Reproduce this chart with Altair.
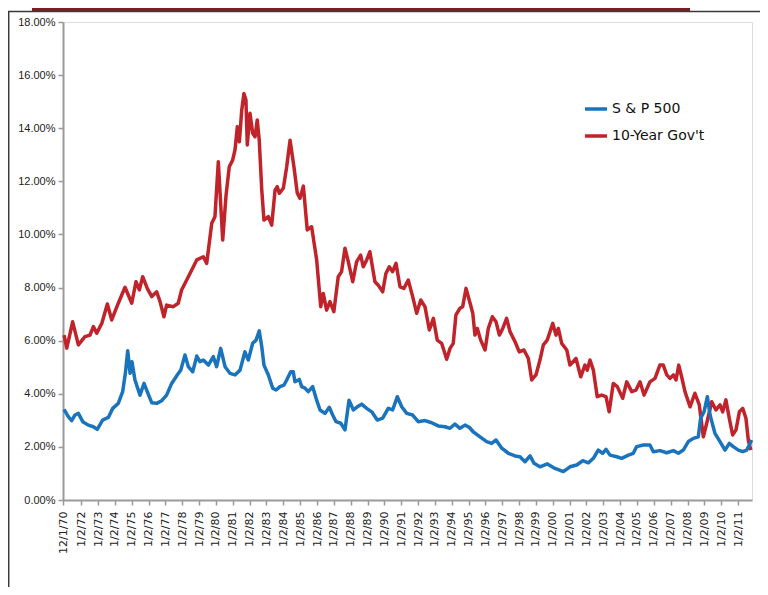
import altair as alt
import pandas as pd

# ---- data (decimal year, yield in %) ----
sp_years = [1970.98, 1971.23, 1971.43, 1971.63, 1971.83, 1972.09, 1972.42, 1972.72, 1972.95, 1973.27,
            1973.61, 1973.87, 1974.20, 1974.46, 1974.62, 1974.76, 1974.90, 1975.01, 1975.19, 1975.49,
            1975.73, 1975.92, 1976.19, 1976.48, 1976.78, 1977.07, 1977.37, 1977.70, 1977.91, 1978.16,
            1978.36, 1978.62, 1978.86, 1979.05, 1979.25, 1979.55, 1979.84, 1980.04, 1980.28, 1980.54,
            1980.83, 1981.13, 1981.43, 1981.72, 1981.92, 1982.18, 1982.38, 1982.57, 1982.72, 1982.85,
            1983.11, 1983.37, 1983.57, 1983.80, 1984.04, 1984.20, 1984.44, 1984.59, 1984.69, 1984.95,
            1985.09, 1985.29, 1985.48, 1985.74, 1985.98, 1986.18, 1986.47, 1986.73, 1986.93, 1987.13,
            1987.41, 1987.66, 1987.90, 1988.16, 1988.39, 1988.65, 1988.95, 1989.25, 1989.58, 1989.90,
            1990.23, 1990.49, 1990.77, 1991.03, 1991.33, 1991.68, 1992.01, 1992.41, 1992.81, 1993.20,
            1993.60, 1993.90, 1994.19, 1994.49, 1994.79, 1995.04, 1995.27, 1995.68, 1996.07, 1996.37,
            1996.63, 1996.97, 1997.36, 1997.76, 1998.05, 1998.35, 1998.65, 1998.89, 1999.24, 1999.68,
            2000.13, 2000.63, 2001.02, 2001.42, 2001.78, 2002.11, 2002.41, 2002.70, 2002.96, 2003.16,
            2003.40, 2003.80, 2004.09, 2004.49, 2004.78, 2004.98, 2005.38, 2005.77, 2005.97, 2006.36,
            2006.77, 2007.16, 2007.46, 2007.75, 2008.05, 2008.35, 2008.64, 2008.78, 2008.98, 2009.18,
            2009.34, 2009.63, 2009.93, 2010.23, 2010.48, 2010.72, 2011.02, 2011.28, 2011.52, 2011.67,
            2011.81]
sp_values = [3.41, 3.14, 2.99, 3.20, 3.26, 2.95, 2.82, 2.76, 2.66, 3.01,
             3.11, 3.45, 3.64, 4.08, 4.77, 5.62, 4.77, 5.21, 4.52, 3.95,
             4.39, 4.08, 3.66, 3.64, 3.74, 3.95, 4.39, 4.71, 4.89, 5.46,
             5.02, 4.83, 5.42, 5.21, 5.27, 5.08, 5.40, 5.02, 5.71, 5.02,
             4.77, 4.71, 4.89, 5.58, 5.27, 5.90, 6.02, 6.37, 5.77, 5.08,
             4.71, 4.21, 4.14, 4.27, 4.33, 4.52, 4.83, 4.83, 4.45, 4.54,
             4.27, 4.21, 4.08, 4.27, 3.76, 3.39, 3.26, 3.49, 3.20, 2.95,
             2.89, 2.64, 3.76, 3.39, 3.51, 3.61, 3.45, 3.32, 3.01, 3.08,
             3.45, 3.39, 3.89, 3.51, 3.26, 3.20, 2.95, 2.99, 2.91, 2.79,
             2.76, 2.70, 2.86, 2.70, 2.82, 2.74, 2.57, 2.38, 2.20, 2.13,
             2.26, 1.95, 1.76, 1.66, 1.63, 1.44, 1.66, 1.38, 1.25, 1.36,
             1.19, 1.07, 1.25, 1.32, 1.48, 1.40, 1.57, 1.88, 1.76, 1.91,
             1.69, 1.63, 1.57, 1.69, 1.76, 2.01, 2.07, 2.07, 1.82, 1.86,
             1.78, 1.86, 1.76, 1.88, 2.20, 2.32, 2.38, 3.08, 3.32, 3.89,
             3.20, 2.51, 2.20, 1.88, 2.13, 2.01, 1.88, 1.82, 1.88, 2.07,
             2.26]

gov_years = [1970.98, 1971.14, 1971.49, 1971.83, 1972.22, 1972.52, 1972.72, 1972.92, 1973.22, 1973.55,
             1973.81, 1974.20, 1974.60, 1975.00, 1975.25, 1975.45, 1975.65, 1975.92, 1976.19, 1976.48,
             1976.68, 1976.91, 1977.07, 1977.47, 1977.76, 1977.96, 1978.36, 1978.86, 1979.25, 1979.45,
             1979.75, 1979.94, 1980.14, 1980.40, 1980.60, 1980.79, 1980.99, 1981.13, 1981.27, 1981.39,
             1981.53, 1981.66, 1981.78, 1981.86, 1982.02, 1982.18, 1982.32, 1982.45, 1982.57, 1982.72,
             1982.85, 1983.11, 1983.31, 1983.51, 1983.64, 1983.76, 1984.00, 1984.20, 1984.40, 1984.63,
             1984.83, 1984.99, 1985.19, 1985.42, 1985.68, 1985.98, 1986.22, 1986.37, 1986.57, 1986.77,
             1987.00, 1987.26, 1987.46, 1987.66, 1987.86, 1988.12, 1988.35, 1988.59, 1988.75, 1988.95,
             1989.14, 1989.44, 1989.64, 1989.90, 1990.09, 1990.29, 1990.49, 1990.69, 1990.93, 1991.16,
             1991.42, 1991.68, 1991.92, 1992.16, 1992.41, 1992.67, 1992.91, 1993.14, 1993.40, 1993.70,
             1993.90, 1994.09, 1994.25, 1994.49, 1994.65, 1994.85, 1995.09, 1995.25, 1995.38, 1995.52,
             1995.72, 1995.98, 1996.17, 1996.41, 1996.63, 1996.83, 1997.03, 1997.26, 1997.46, 1997.76,
             1998.01, 1998.29, 1998.55, 1998.75, 1999.00, 1999.24, 1999.44, 1999.67, 2000.00, 2000.19,
             2000.33, 2000.53, 2000.83, 2001.02, 2001.38, 2001.66, 2001.91, 2002.05, 2002.21, 2002.41,
             2002.64, 2002.90, 2003.16, 2003.35, 2003.59, 2003.83, 2004.15, 2004.39, 2004.69, 2004.94,
             2005.18, 2005.42, 2005.77, 2006.07, 2006.36, 2006.56, 2006.77, 2006.96, 2007.16, 2007.32,
             2007.48, 2007.65, 2007.85, 2008.15, 2008.44, 2008.70, 2008.94, 2009.14, 2009.44, 2009.69,
             2009.93, 2010.09, 2010.28, 2010.48, 2010.68, 2010.88, 2011.08, 2011.28, 2011.47, 2011.61,
             2011.76]
gov_values = [6.21, 5.72, 6.71, 5.84, 6.15, 6.21, 6.53, 6.28, 6.65, 7.38,
              6.78, 7.41, 8.01, 7.41, 8.22, 7.91, 8.41, 7.97, 7.66, 7.84,
              7.47, 6.90, 7.34, 7.28, 7.41, 7.91, 8.41, 9.04, 9.16, 8.91,
              10.42, 10.67, 12.74, 9.79, 11.48, 12.55, 12.80, 13.18, 14.06, 13.49,
              14.68, 15.31, 15.06, 13.37, 14.56, 13.81, 13.68, 14.31, 13.55, 11.67,
              10.54, 10.67, 10.35, 11.67, 11.80, 11.55, 11.74, 12.55, 13.55, 12.55,
              11.55, 11.36, 11.82, 10.17, 10.29, 9.04, 7.28, 7.78, 7.15, 7.47,
              7.09, 8.41, 8.60, 9.48, 8.97, 8.22, 8.97, 9.22, 8.78, 9.04,
              9.35, 8.22, 8.09, 7.84, 8.53, 8.78, 8.60, 8.91, 8.03, 7.97,
              8.28, 7.66, 7.03, 7.53, 7.28, 6.40, 6.84, 6.02, 5.90, 5.30,
              5.71, 5.90, 6.97, 7.22, 7.28, 7.97, 7.41, 7.03, 6.21, 6.46,
              6.02, 5.65, 6.46, 6.90, 6.71, 6.21, 6.46, 6.84, 6.34, 5.96,
              5.58, 5.65, 5.33, 4.52, 4.71, 5.27, 5.84, 6.02, 6.65, 6.21,
              6.46, 5.90, 5.65, 5.08, 5.33, 4.64, 5.08, 4.89, 5.27, 4.89,
              3.89, 3.95, 3.89, 3.32, 4.39, 4.27, 3.83, 4.45, 4.08, 4.14,
              4.45, 3.95, 4.45, 4.58, 5.08, 5.08, 4.71, 4.58, 4.71, 4.52,
              5.08, 4.64, 4.08, 3.51, 4.02, 3.58, 2.38, 2.89, 3.70, 3.39,
              3.58, 3.32, 3.77, 3.08, 2.45, 2.64, 3.32, 3.45, 3.08, 2.26,
              1.88]

series_names = ["S & P 500", "10-Year Gov't"]
series_colors = ["#1a73bd", "#c1232b"]

x_start = 1970.917   # 12/1/70
x_end = 2011.83
tick_years = [x_start] + list(range(1972, 2012))
y_ticks = list(range(0, 19, 2))

df = pd.concat([
    pd.DataFrame({"year": sp_years, "value": sp_values, "series": series_names[0]}),
    pd.DataFrame({"year": gov_years, "value": gov_values, "series": series_names[1]}),
])

x_enc = alt.X(
    "year:Q",
    scale=alt.Scale(domain=[x_start, x_end], nice=False, zero=False),
    axis=alt.Axis(
        title=None, values=tick_years, grid=False,
        labelExpr="datum.value < 1971 ? '12/1/70' : '1/2/' + format(datum.value % 100, '02d')",
        labelAngle=270, labelAlign="right", labelBaseline="middle",
        labelFont="DejaVu Sans", labelFontSize=11, labelColor="#222222",
        labelPadding=6, tickSize=5, labelOverlap=False,
        domainColor="#9a9a9a", domainWidth=2, tickColor="#9a9a9a", tickWidth=1.5,
    ),
)
y_enc = alt.Y(
    "value:Q",
    scale=alt.Scale(domain=[0, 18], nice=False),
    axis=alt.Axis(
        title=None, values=y_ticks, grid=False,
        labelExpr="format(datum.value, '.2f') + '%'",
        labelFont="Liberation Sans", labelFontSize=11, labelColor="#222222",
        labelPadding=3, tickSize=5,
        domainColor="#9a9a9a", domainWidth=2, tickColor="#9a9a9a", tickWidth=1.5,
    ),
)
color_enc = alt.Color(
    "series:N",
    scale=alt.Scale(domain=series_names, range=series_colors),
    legend=alt.Legend(
        title=None, orient="none", legendX=520, legendY=74,
        symbolType="stroke", symbolSize=484, symbolStrokeWidth=3.5,
        labelFont="DejaVu Sans", labelFontSize=14, labelColor="#111111",
        labelOffset=3, rowPadding=7, padding=0,
    ),
)

base = alt.Chart(df)
gov_line = base.transform_filter(alt.datum.series == series_names[1]).mark_line(
    strokeWidth=3.5, strokeJoin="round").encode(x=x_enc, y=y_enc, color=color_enc)
sp_line = base.transform_filter(alt.datum.series == series_names[0]).mark_line(
    strokeWidth=3.5, strokeJoin="round").encode(x=x_enc, y=y_enc, color=color_enc)

deco = alt.Chart(pd.DataFrame({"k": [0]}))
banner = deco.mark_rect(color="#7a1f24").encode(
    x=alt.value(-31), x2=alt.value(627), y=alt.value(-14), y2=alt.value(-11))
top_border = deco.mark_rule(color="#3a3a3a", strokeWidth=1.5).encode(
    x=alt.value(-55), x2=alt.value(697), y=alt.value(-10.5))
left_border = deco.mark_rule(color="#3a3a3a", strokeWidth=1.5).encode(
    x=alt.value(-54.3), y=alt.value(-10.5), y2=alt.value(565))

chart = alt.layer(banner, top_border, left_border, gov_line, sp_line).properties(
    width=689, height=478,
    autosize=alt.AutoSizeParams(type="none"),
    padding={"left": 55, "top": 14, "right": 8, "bottom": 87},
).configure_view(stroke=None).configure(background="white")

chart.save("out.html", embed_options={"renderer": "svg", "actions": False})
